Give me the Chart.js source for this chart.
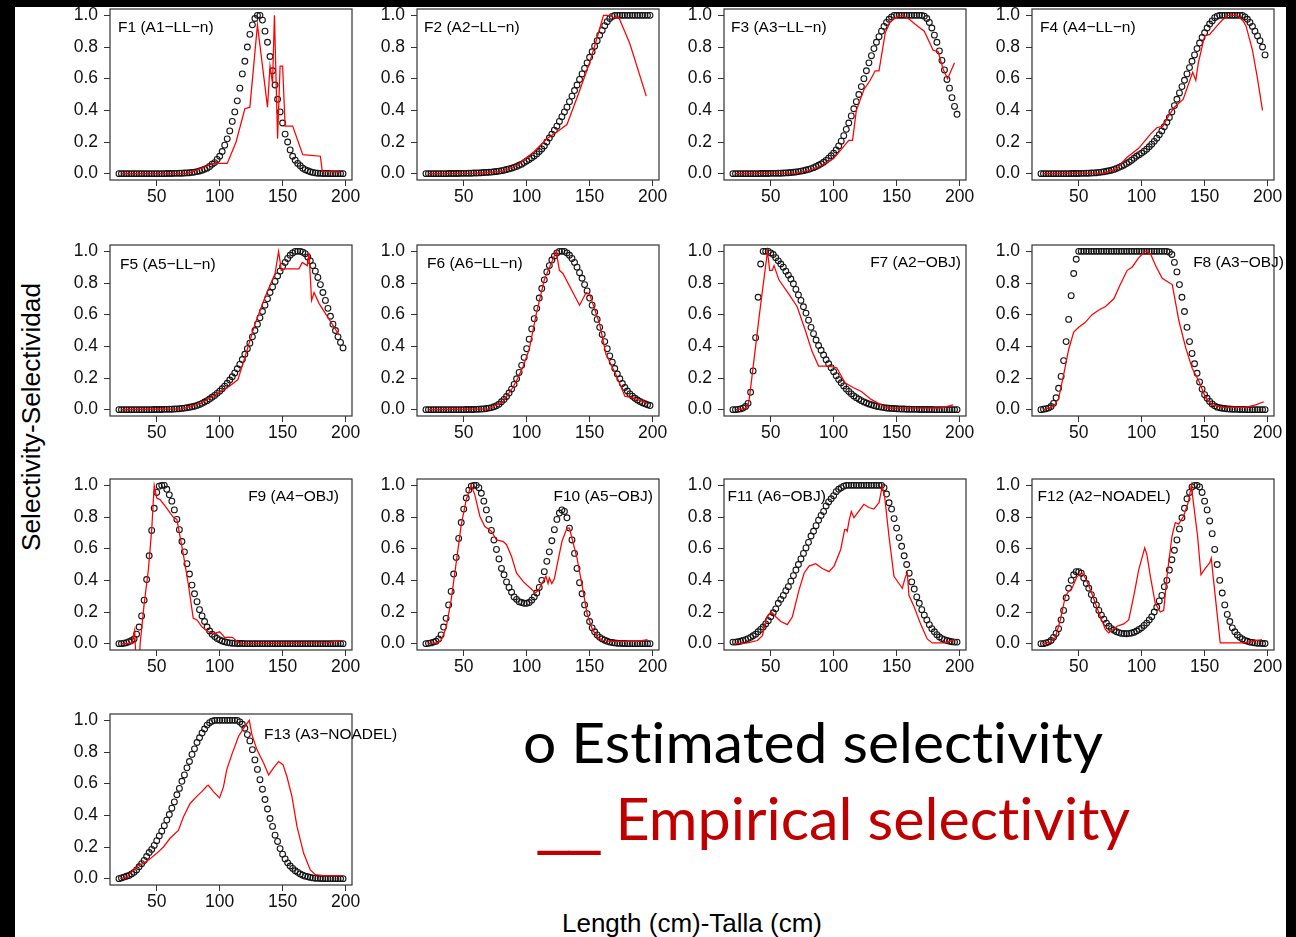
<!DOCTYPE html>
<html>
<head>
<meta charset="utf-8">
<script src="https://cdn.jsdelivr.net/npm/chart.js"></script>
<style>
  body { margin: 0; background: #fff; width: 1296px; height: 937px; overflow: hidden; position: relative; font-family: 'Liberation Sans', Arial, sans-serif; }
  .bar { position: absolute; background: #000; }
  canvas { position: absolute; }
  .txt { position: absolute; white-space: nowrap; line-height: 1; font-variant-ligatures: none; font-feature-settings: "liga" 0; }
</style>
</head>
<body>
<div class="bar" style="left:0;top:0;width:1296px;height:7px"></div>
<div class="bar" style="left:0;top:0;width:15px;height:937px"></div>
<div class="bar" style="left:1286px;top:0;width:10px;height:937px"></div>

<div id="ytitle" class="txt" style="font-size:26px;color:#000">Selectivity-Selectividad</div>
<div id="xtitle" class="txt" style="font-size:25px;color:#000">Length (cm)-Talla (cm)</div>
<div id="leg1" class="txt" style="font-family:Lato,'Open Sans',sans-serif;font-size:57px;color:#000">o Estimated selectivity</div>
<div id="leg2" class="txt" style="font-family:Lato,'Open Sans',sans-serif;font-size:59px;color:#c00000"><span style="font-family:'DejaVu Sans',sans-serif;font-size:62px">__</span> Empirical selectivity</div>

<script>
// length classes (cm) for the estimated selectivity points
const lengths = [20,22,24,26,28,30,32,34,36,38,40,42,44,46,48,50,52,54,56,58,
  60,62,64,66,68,70,72,74,76,78,80,82,84,86,88,90,92,94,96,98,
  100,102,104,106,108,110,112,114,116,118,120,122,124,126,128,130,132,134,136,138,
  140,142,144,146,148,150,152,154,156,158,160,162,164,166,168,170,172,174,176,178,
  180,182,184,186,188,190,192,194,196,198];

const xTicks = [50, 100, 150, 200];
const yTicks = [0, 0.2, 0.4, 0.6, 0.8, 1.0];

const panelNames = ['F1 (A1\u2212LL\u2212n)', 'F2 (A2\u2212LL\u2212n)', 'F3 (A3\u2212LL\u2212n)', 'F4 (A4\u2212LL\u2212n)',
  'F5 (A5\u2212LL\u2212n)', 'F6 (A6\u2212LL\u2212n)', 'F7 (A2\u2212OBJ)', 'F8 (A3\u2212OBJ)',
  'F9 (A4\u2212OBJ)', 'F10 (A5\u2212OBJ)', 'F11 (A6\u2212OBJ)', 'F12 (A2\u2212NOADEL)', 'F13 (A3\u2212NOADEL)'];

// estimated selectivity (circles)
const f1Est = [0,0,0,0,0,0,0,0,0,0, 0,0,0,0,0,0,0,0,0,0.001,
  0.001,0.001,0.002,0.002,0.003,0.003,0.004,0.005,0.006,0.008, 0.01,0.013,0.017,0.022,0.028,0.035,0.045,0.06,0.07,0.09,
  0.11,0.14,0.18,0.22,0.27,0.33,0.39,0.46,0.54,0.63, 0.71,0.8,0.88,0.94,0.98,1,1,0.97,0.9,0.83,
  0.74,0.65,0.56,0.47,0.39,0.32,0.25,0.2,0.15,0.11, 0.085,0.065,0.05,0.035,0.025,0.018,0.012,0.008,0.005,0.003,
  0.002,0.001,0.001,0.001,0,0,0,0,0,0];
const f2Est = [0,0,0,0,0,0,0,0,0,0.001, 0.001,0.001,0.001,0.001,0.002,0.002,0.002,0.003,0.003,0.004,
  0.004,0.005,0.006,0.007,0.008,0.009,0.01,0.012,0.014,0.016, 0.019,0.022,0.026,0.03,0.035,0.04,0.046,0.053,0.06,0.07,
  0.08,0.09,0.1,0.112,0.125,0.14,0.156,0.175,0.2,0.225, 0.25,0.275,0.3,0.33,0.36,0.39,0.42,0.455,0.49,0.525,
  0.56,0.595,0.63,0.665,0.7,0.735,0.77,0.805,0.84,0.875, 0.905,0.935,0.96,0.98,0.993,1,1,1,1,1,
  1,1,1,1,1,1,1,1,1,1];
const f3Est = [0,0,0,0,0,0,0,0,0,0, 0,0.001,0.001,0.001,0.001,0.002,0.002,0.002,0.003,0.003,
  0.004,0.005,0.006,0.007,0.009,0.011,0.013,0.016,0.019,0.023, 0.027,0.032,0.038,0.045,0.053,0.062,0.072,0.084,0.098,0.113,
  0.13,0.15,0.175,0.205,0.24,0.28,0.32,0.365,0.41,0.455, 0.5,0.55,0.6,0.65,0.7,0.745,0.79,0.83,0.865,0.9,
  0.93,0.955,0.975,0.99,1,1,1,1,1,1, 1,1,1,1,1,1,0.995,0.98,0.955,0.92,
  0.875,0.83,0.775,0.715,0.655,0.595,0.54,0.48,0.425,0.375];
const f4Est = [0,0,0,0,0,0,0,0,0,0, 0,0,0.001,0.001,0.001,0.001,0.002,0.002,0.003,0.003,
  0.004,0.005,0.006,0.008,0.01,0.012,0.015,0.018,0.022,0.027, 0.033,0.04,0.047,0.055,0.064,0.074,0.085,0.097,0.11,0.12,
  0.13,0.142,0.155,0.17,0.186,0.204,0.224,0.246,0.27,0.296, 0.324,0.355,0.39,0.43,0.47,0.51,0.55,0.59,0.63,0.67,
  0.71,0.75,0.79,0.825,0.86,0.89,0.92,0.945,0.965,0.985, 0.995,1,1,1,1,1,1,1,1,1,
  1,0.99,0.975,0.955,0.93,0.9,0.87,0.84,0.8,0.75];
const f5Est = [0,0,0,0,0,0,0,0,0,0, 0,0,0,0,0.001,0.001,0.001,0.001,0.002,0.002,
  0.003,0.003,0.004,0.005,0.006,0.008,0.01,0.012,0.015,0.018, 0.022,0.027,0.033,0.04,0.048,0.057,0.067,0.078,0.09,0.103,
  0.117,0.132,0.149,0.167,0.187,0.208,0.232,0.258,0.286,0.317, 0.35,0.385,0.42,0.46,0.5,0.54,0.58,0.62,0.66,0.7,
  0.74,0.775,0.81,0.845,0.875,0.905,0.93,0.955,0.975,0.99, 1,1,1,0.995,0.985,0.965,0.94,0.91,0.875,0.835,
  0.79,0.74,0.69,0.64,0.59,0.54,0.5,0.46,0.425,0.39];
const f6Est = [0,0,0,0,0,0,0,0,0,0, 0,0,0,0,0,0,0.001,0.001,0.001,0.001,
  0.002,0.003,0.004,0.005,0.007,0.01,0.013,0.018,0.025,0.035, 0.05,0.065,0.083,0.105,0.13,0.16,0.195,0.235,0.28,0.33,
  0.385,0.445,0.51,0.575,0.64,0.705,0.765,0.82,0.87,0.91, 0.945,0.97,0.99,1,1,1,0.99,0.975,0.955,0.93,
  0.9,0.865,0.83,0.79,0.75,0.705,0.66,0.615,0.57,0.52, 0.475,0.43,0.385,0.34,0.3,0.26,0.225,0.195,0.165,0.14,
  0.118,0.1,0.085,0.072,0.061,0.052,0.044,0.037,0.031,0.026];
const f7Est = [0,0,0.002,0.005,0.01,0.02,0.04,0.11,0.245,0.455, 0.71,0.92,1,1,1,0.99,0.98,0.96,0.94,0.92,
  0.9,0.875,0.85,0.825,0.795,0.76,0.725,0.69,0.65,0.61, 0.565,0.52,0.48,0.44,0.405,0.375,0.345,0.315,0.29,0.265,
  0.24,0.215,0.19,0.17,0.15,0.13,0.115,0.1,0.087,0.076, 0.066,0.057,0.049,0.042,0.036,0.031,0.026,0.022,0.019,0.016,
  0.013,0.011,0.009,0.008,0.007,0.006,0.005,0.004,0.004,0.003, 0.003,0.002,0.002,0.002,0.001,0.001,0.001,0.001,0.001,0.001,
  0,0,0,0,0,0,0,0,0,0];
const f8Est = [0,0.003,0.006,0.01,0.02,0.04,0.075,0.135,0.21,0.31, 0.43,0.57,0.72,0.86,0.95,1,1,1,1,1,
  1,1,1,1,1,1,1,1,1,1, 1,1,1,1,1,1,1,1,1,1,
  1,1,1,1,1,1,1,1,1,1, 1,0.995,0.98,0.93,0.87,0.79,0.71,0.62,0.52,0.43,
  0.355,0.29,0.23,0.175,0.13,0.095,0.072,0.052,0.036,0.024, 0.016,0.012,0.009,0.007,0.005,0.004,0.003,0.002,0.002,0.001,
  0.001,0.001,0,0,0,0,0,0,0,0];
const f9Est = [0,0,0.003,0.006,0.012,0.02,0.03,0.06,0.105,0.175, 0.275,0.405,0.555,0.715,0.855,0.955,0.995,1,1,0.975,
  0.94,0.9,0.845,0.785,0.72,0.645,0.58,0.505,0.44,0.37, 0.315,0.265,0.215,0.175,0.14,0.105,0.08,0.06,0.045,0.033,
  0.024,0.017,0.012,0.008,0.005,0.003,0.002,0.001,0.001,0.001, 0,0,0,0,0,0,0,0,0,0,
  0,0,0,0,0,0,0,0,0,0, 0,0,0,0,0,0,0,0,0,0,
  0,0,0,0,0,0,0,0,0,0];
const f10Est = [0,0.002,0.005,0.01,0.015,0.03,0.055,0.105,0.16,0.245, 0.33,0.44,0.545,0.665,0.765,0.85,0.92,0.97,0.995,1,
  1,0.985,0.95,0.9,0.845,0.785,0.715,0.655,0.595,0.535, 0.475,0.435,0.39,0.355,0.325,0.295,0.28,0.265,0.26,0.255,
  0.255,0.26,0.275,0.295,0.32,0.355,0.4,0.455,0.52,0.58, 0.65,0.72,0.785,0.825,0.845,0.835,0.795,0.73,0.655,0.57,
  0.475,0.385,0.315,0.245,0.19,0.14,0.1,0.075,0.055,0.04, 0.03,0.022,0.015,0.01,0.007,0.005,0.003,0.002,0.001,0.001,
  0,0,0,0,0,0,0,0,0,0];
const f11Est = [0.01,0.01,0.012,0.015,0.02,0.025,0.032,0.04,0.05,0.06, 0.075,0.09,0.105,0.125,0.145,0.17,0.195,0.22,0.255,0.28,
  0.305,0.335,0.36,0.395,0.43,0.465,0.5,0.535,0.57,0.605, 0.64,0.68,0.71,0.745,0.78,0.81,0.835,0.87,0.895,0.915,
  0.935,0.96,0.975,0.985,0.995,1,1,1,1,1, 1,1,1,1,1,1,1,1,1,1,
  0.985,0.945,0.89,0.85,0.79,0.73,0.67,0.615,0.555,0.5, 0.445,0.39,0.345,0.295,0.255,0.215,0.18,0.15,0.12,0.095,
  0.075,0.057,0.042,0.032,0.025,0.02,0.015,0.012,0.01,0.01];
const f12Est = [0,0,0.005,0.01,0.02,0.04,0.065,0.095,0.15,0.21, 0.29,0.35,0.4,0.435,0.455,0.455,0.445,0.415,0.38,0.35,
  0.31,0.275,0.245,0.21,0.18,0.155,0.13,0.11,0.095,0.085, 0.075,0.07,0.065,0.064,0.063,0.065,0.067,0.072,0.08,0.09,
  0.1,0.115,0.13,0.15,0.17,0.2,0.23,0.27,0.305,0.36, 0.4,0.465,0.53,0.59,0.655,0.725,0.795,0.855,0.915,0.955,
  0.99,1,1,0.99,0.955,0.9,0.845,0.775,0.695,0.595, 0.5,0.4,0.32,0.245,0.185,0.14,0.1,0.075,0.055,0.04,
  0.03,0.02,0.015,0.01,0.008,0.005,0.003,0.002,0.001,0.001];
const f13Est = [0,0.005,0.01,0.015,0.02,0.03,0.04,0.055,0.075,0.095, 0.115,0.14,0.165,0.185,0.21,0.24,0.27,0.3,0.335,0.37,
  0.405,0.445,0.485,0.53,0.57,0.615,0.655,0.7,0.74,0.785, 0.82,0.86,0.89,0.92,0.945,0.97,0.985,0.995,1,1,
  1,1,1,1,1,1,1,1,0.99,0.975, 0.95,0.91,0.87,0.815,0.75,0.69,0.625,0.565,0.5,0.44,
  0.38,0.33,0.275,0.235,0.19,0.155,0.125,0.1,0.08,0.065, 0.05,0.04,0.03,0.022,0.016,0.012,0.008,0.005,0.003,0.002,
  0.001,0.001,0,0,0,0,0,0,0,0];

// empirical selectivity (red lines)
const f1EmpX = [22,74,84,92,95,106,113,120,124,130,138,140,142,143.5,146,148,150,152,158,166,180,181.5,196];
const f1EmpY = [0,0,0.03,0.055,0.065,0.065,0.2,0.41,0.42,0.94,0.42,0.68,0.57,1.0,0.22,0.68,0.68,0.3,0.3,0.12,0.11,0.015,0.01];
const f2EmpX = [22,60,80,92,106,116,125,132,140,150,156,161,166,169,173,182,195];
const f2EmpY = [0,0.002,0.015,0.05,0.14,0.22,0.27,0.31,0.48,0.7,0.86,1.0,1.0,0.985,0.99,0.82,0.49];
const f3EmpX = [22,70,80,90,100,112,115,118,124,129,133,136,141,145,150,155,160,167,172,179,183,187,190.5,196];
const f3EmpY = [0,0.003,0.02,0.05,0.095,0.21,0.21,0.4,0.53,0.59,0.65,0.65,0.89,0.96,0.99,1.0,0.975,0.93,0.9,0.78,0.77,0.66,0.6,0.7];
const f4EmpX = [22,70,80,88,97.6,107,112,117,121,126,133,140.5,143,145,150,154,159.5,164,169,176,181,183,188,192,196];
const f4EmpY = [0,0.003,0.03,0.1,0.16,0.25,0.29,0.3,0.36,0.42,0.47,0.64,0.59,0.7,0.87,0.88,0.93,0.97,1.0,1.0,0.96,0.93,0.78,0.6,0.4];
const f5EmpX = [22,70,85,98,108,114.5,120,128,136,144,146.8,149,152,163,165.6,169.6,171,173,175,179,195];
const f5EmpY = [0,0.005,0.04,0.1,0.15,0.19,0.33,0.54,0.71,0.86,1.0,0.88,0.89,0.89,0.93,0.91,0.99,0.69,0.74,0.67,0.47];
const f6EmpX = [22,70,81,89,93,97,102,107.5,114,123.5,126,128.8,142,147.3,150,158,163,171,178,184.5,196];
const f6EmpY = [0,0.005,0.05,0.14,0.2,0.27,0.38,0.6,0.82,1.0,0.88,0.86,0.66,0.74,0.73,0.54,0.35,0.22,0.085,0.075,0.04];
const f7EmpX = [22.5,29,31.7,33,41,47.4,49.2,51.3,52.6,56.5,64.4,71,77.5,82.7,88,95.8,102.4,109,115.4,122,129.8,137.7,143,185,195];
const f7EmpY = [0,0.005,0.02,0.07,0.6,1.0,0.88,0.88,0.91,0.82,0.73,0.65,0.5,0.37,0.275,0.275,0.265,0.17,0.14,0.115,0.065,0.03,0.01,0.01,0.03];
const f8EmpX = [22,30,34,38,42,46,50,55,60.6,66,71,77.9,83,88.5,92.4,97.7,103,107,111,116.3,120.3,124.3,129.6,135,140.2,145.5,150.8,156,164,182.6,190.5,197];
const f8EmpY = [0,0.02,0.07,0.22,0.38,0.49,0.52,0.55,0.6,0.63,0.65,0.7,0.79,0.88,0.9,0.96,1.0,0.985,0.91,0.83,0.81,0.79,0.56,0.39,0.26,0.18,0.075,0.03,0.015,0.015,0.03,0.05];
const f9EmpX = [22,30,32.5,35,36.8,40,43.4,46,48,50,52.6,56.6,63,66,71,75,79,82,86,91,96,100,104,110,116,185,197];
const f9EmpY = [0,0,0.085,-0.4,0,0.25,0.47,0.72,1.0,0.92,0.91,0.87,0.8,0.785,0.57,0.38,0.16,0.15,0.105,0.075,0.065,0.075,0.04,0.04,0,0.005,0.02];
const f10EmpX = [21.5,28,32,36,40,44,48,52,56,58.8,62.8,66.8,72,76,81.5,84,88,92,97.5,103,107,109.5,113.5,115.3,117,118,120,122,124,128,132,134,136,140,144,148,152,156,161,166.8,188,196];
const f10EmpY = [0,0.005,0.02,0.1,0.275,0.51,0.75,0.91,1.0,0.94,0.805,0.74,0.71,0.655,0.645,0.625,0.55,0.445,0.39,0.35,0.32,0.34,0.4,0.425,0.38,0.415,0.38,0.41,0.49,0.645,0.73,0.73,0.665,0.54,0.37,0.19,0.095,0.04,0.02,0.015,0.015,0.025];
const f11EmpX = [21,31.5,39.4,43.4,46.8,50.5,54,58,63.2,67.2,72.5,76.5,80.4,85.7,91,96.3,100.3,105.6,108.7,110,110.8,112.2,114,116.1,118.8,124,128,132,136,138.6,140.5,143.9,147.9,151.9,154.5,157.1,158.5,159.8,163.8,169,174.3,178.3,187.6,196.8];
const f11EmpY = [0,0.005,0.02,0.05,0.17,0.2,0.17,0.14,0.12,0.17,0.34,0.445,0.49,0.505,0.475,0.455,0.49,0.595,0.72,0.72,0.71,0.775,0.835,0.795,0.825,0.88,0.86,0.85,0.89,0.995,0.93,0.68,0.425,0.38,0.35,0.425,0.445,0.305,0.235,0.125,0.03,0.005,0.005,0.025];
const f12EmpX = [21,27.5,31.5,35.4,39.4,42,44.7,48.7,52.6,55.3,59.3,63.2,67.2,71.2,73.8,76.5,80.4,85.7,89.7,93.7,97.6,102.4,104.2,106.9,110.8,114.8,117.5,120.1,124.1,126.7,129.4,133.3,137.3,139.4,142.6,144.4,147.1,150.5,154,155.3,157.1,162.4,181,195.5];
const f12EmpY = [0,0.01,0.04,0.15,0.3,0.33,0.35,0.425,0.445,0.415,0.34,0.255,0.17,0.09,0.068,0.085,0.11,0.125,0.15,0.3,0.465,0.605,0.56,0.425,0.255,0.2,0.21,0.425,0.68,0.765,0.755,0.805,0.9,1.0,0.795,0.68,0.435,0.475,0.51,0.54,0.4,0.005,0.005,0.025];
const f13EmpX = [21,26,30,35.4,39.4,44.7,50,55.3,60.6,67.2,71.2,76.5,81.8,85.8,89.8,91.1,95,99.9,103,105.7,109.7,115,120.3,123.5,125.6,129.6,134.9,138.9,142.8,146.8,150.3,153.4,157.4,161.4,166.7,172,176,182.6,197.2];
const f13EmpY = [0,0.01,0.04,0.085,0.095,0.125,0.16,0.2,0.255,0.305,0.39,0.475,0.52,0.55,0.585,0.59,0.55,0.51,0.58,0.69,0.785,0.9,0.965,1.0,0.91,0.815,0.73,0.655,0.7,0.74,0.72,0.645,0.52,0.33,0.16,0.055,0.025,0.02,0.02];

const estSeries = [f1Est, f2Est, f3Est, f4Est, f5Est, f6Est, f7Est, f8Est, f9Est, f10Est, f11Est, f12Est, f13Est];
const empXSeries = [f1EmpX, f2EmpX, f3EmpX, f4EmpX, f5EmpX, f6EmpX, f7EmpX, f8EmpX, f9EmpX, f10EmpX, f11EmpX, f12EmpX, f13EmpX];
const empYSeries = [f1EmpY, f2EmpY, f3EmpY, f4EmpY, f5EmpY, f6EmpY, f7EmpY, f8EmpY, f9EmpY, f10EmpY, f11EmpY, f12EmpY, f13EmpY];

// layout of the 4-column grid (plot box corners, px)
const boxLefts = [110, 417, 724, 1032];
const boxTops = [9, 245, 479, 714];
const BOX_W = 242, BOX_H = 171;
const PAD_L = 70, PAD_T = 12, PAD_R = 70, PAD_B = 35;

// where each panel tag sits: side of the box, x offset, y offset of its middle
const tagSpots = [
  ['left', 8, 19], ['left', 7, 19], ['left', 7, 19], ['left', 8, 19],
  ['left', 10, 20], ['left', 10, 19], ['right', -5, 18], ['right', 10, 18],
  ['right', -13, 18], ['right', -6, 18], ['left', 3.5, 18], ['left', 5.5, 18],
  ['left', 154, 21]
];

const FONT = "'Liberation Sans', Arial, sans-serif";

const boxPlugin = {
  id: 'boxAndTag',
  afterDraw(chart, args, opts) {
    const { ctx, chartArea: a } = chart;
    ctx.save();
    ctx.strokeStyle = '#333';
    ctx.lineWidth = 1.2;
    ctx.strokeRect(a.left, a.top, a.right - a.left, a.bottom - a.top);
    ctx.fillStyle = '#000';
    ctx.font = '15.5px ' + FONT;
    ctx.textBaseline = 'middle';
    if (opts.side === 'left') {
      ctx.textAlign = 'left';
      ctx.fillText(opts.text, a.left + opts.dx, a.top + opts.dy);
    } else {
      ctx.textAlign = 'right';
      ctx.fillText(opts.text, a.right + opts.dx, a.top + opts.dy);
    }
    ctx.restore();
  }
};

panelNames.forEach((name, i) => {
  const col = i % 4, row = Math.floor(i / 4);
  const cv = document.createElement('canvas');
  cv.width = PAD_L + BOX_W + PAD_R;
  cv.height = PAD_T + BOX_H + PAD_B;
  cv.style.left = (boxLefts[col] - PAD_L) + 'px';
  cv.style.top = (boxTops[row] - PAD_T) + 'px';
  document.body.appendChild(cv);

  const est = lengths.map((x, k) => ({ x: x, y: estSeries[i][k] }));
  const emp = empXSeries[i].map((x, k) => ({ x: x, y: empYSeries[i][k] }));
  const spot = tagSpots[i];

  new Chart(cv, {
    type: 'line',
    data: {
      datasets: [
        { label: 'Empirical', data: emp, showLine: true, borderColor: '#ff0000', borderWidth: 1.25,
          pointRadius: 0, tension: 0, fill: false, order: 0 },
        { label: 'Estimated', data: est, showLine: false, pointRadius: 2.9, pointBorderWidth: 1.1,
          pointBorderColor: '#151515', pointBackgroundColor: 'rgba(0,0,0,0)', order: 1 }
      ]
    },
    options: {
      responsive: false,
      animation: false,
      events: [],
      layout: { padding: { left: 0, top: PAD_T, right: PAD_R, bottom: 0 } },
      plugins: {
        legend: { display: false },
        tooltip: { enabled: false },
        boxAndTag: { text: name, side: spot[0], dx: spot[1], dy: spot[2] }
      },
      scales: {
        x: {
          type: 'linear', min: 12.88, max: 205.12,
          afterBuildTicks: s => { s.ticks = xTicks.map(v => ({ value: v })); },
          afterFit: s => { s.height = PAD_B; s.paddingLeft = 0; s.paddingRight = 0; },
          grid: { drawOnChartArea: false, drawTicks: true, tickLength: 6, color: '#333' },
          border: { display: false },
          ticks: { font: { size: 17.5, family: FONT }, color: '#111', padding: 1, maxRotation: 0, autoSkip: false }
        },
        y: {
          type: 'linear', min: -0.04, max: 1.04,
          afterBuildTicks: s => { s.ticks = yTicks.map(v => ({ value: v })); },
          afterFit: s => { s.width = PAD_L; s.paddingTop = 0; s.paddingBottom = 0; },
          grid: { drawOnChartArea: false, drawTicks: true, tickLength: 6, color: '#333' },
          border: { display: false },
          ticks: { font: { size: 17.5, family: FONT }, color: '#111', padding: 6, autoSkip: false,
                   callback: v => v.toFixed(1) }
        }
      }
    },
    plugins: [boxPlugin]
  });
});

// put a text block on a baseline and stretch it to a width
function placeText(id, left, baseline, width) {
  const el = document.getElementById(id);
  const probe = document.createElement('span');
  probe.style.cssText = 'display:inline-block;width:0;height:0;vertical-align:baseline';
  el.appendChild(probe);
  const w = el.getBoundingClientRect().width;
  el.style.left = left + 'px';
  el.style.top = (baseline - probe.offsetTop) + 'px';
  el.style.transformOrigin = '0 0';
  el.style.transform = 'scaleX(' + (width / w) + ')';
}

placeText('xtitle', 562, 932, 260);
placeText('leg1', 523, 763, 580);
placeText('leg2', 538, 840, 592);

// rotated axis title, centred on a point
const yt = document.getElementById('ytitle');
const r = yt.getBoundingClientRect();
yt.style.left = (31 - r.width / 2) + 'px';
yt.style.top = (417 - r.height / 2) + 'px';
yt.style.transformOrigin = '50% 50%';
yt.style.transform = 'rotate(-90deg) scaleX(' + (268 / r.width) + ')';
</script>
</body>
</html>
